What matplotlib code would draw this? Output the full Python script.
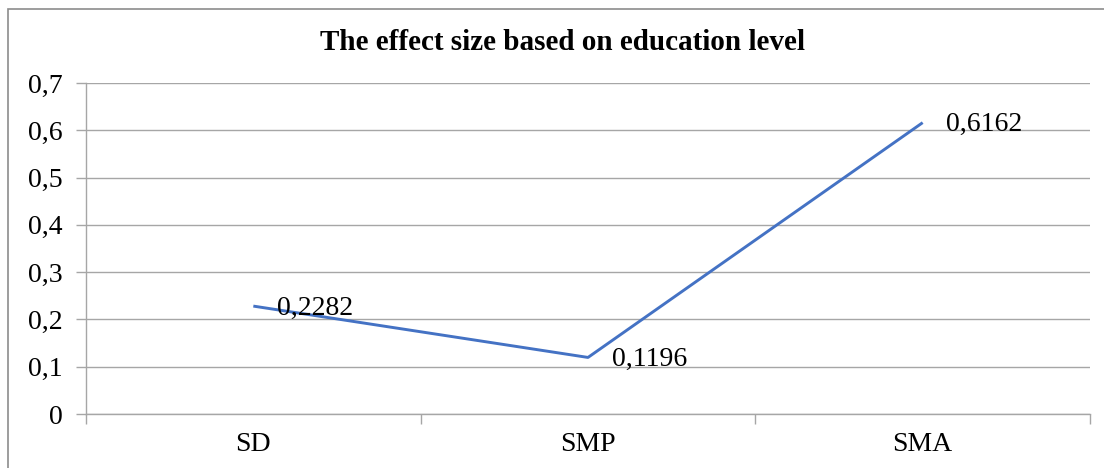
import matplotlib.pyplot as plt
import matplotlib.patches as mpatches

# chart data
categories = ['SD', 'SMP', 'SMA']
effect_sizes = [0.2282, 0.1196, 0.6162]
y_ticks = [0, 0.1, 0.2, 0.3, 0.4, 0.5, 0.6, 0.7]
title = 'The effect size based on education level'

plt.rcParams['font.family'] = ['Liberation Serif', 'DejaVu Serif']

W, H = 1104, 468
fig = plt.figure(figsize=(W / 100, H / 100), dpi=100)
ax = fig.add_axes([86 / W, 1 - 414 / H, (1090 - 86) / W, (414 - 83) / H])

grid_col = '#a6a6a6'
txt_size = 20

# outer chart frame (right/bottom edges fall outside the image)
frame = mpatches.Rectangle((8 / W, -0.1), 1.2, 1 - 9 / H + 0.1,
                           transform=fig.transFigure, fill=False,
                           edgecolor='#8c8c8c', linewidth=1.2)
fig.add_artist(frame)

x = [i + 0.5 for i in range(len(categories))]
ax.plot(x, effect_sizes, color='#4472C4', linewidth=2.1, solid_capstyle='butt')

for xi, v in zip(x, effect_sizes):
    ax.annotate(f'{v:.4f}'.replace('.', ','), xy=(xi, v),
                xytext=(17, -1.5), textcoords='offset points',
                ha='left', va='center', fontsize=txt_size, color='black')

ax.set_xlim(0, len(categories))
ax.set_ylim(0, 0.7)
ax.set_yticks(y_ticks)
ax.set_yticklabels([f'{t:.1f}'.replace('.', ',') if t else '0' for t in y_ticks])
ax.set_xticks(range(len(categories) + 1))
ax.set_xticklabels([])
ax.set_xticks(x, minor=True)
ax.set_xticklabels(categories, minor=True)

ax.grid(axis='y', color=grid_col, linewidth=1.0)
ax.set_axisbelow(True)
for s in ['top', 'right']:
    ax.spines[s].set_visible(False)
for s in ['left', 'bottom']:
    ax.spines[s].set_color(grid_col)
    ax.spines[s].set_linewidth(1.0)

ax.tick_params(axis='y', which='major', length=7, width=1.0, color=grid_col,
               labelsize=txt_size, pad=10)
ax.tick_params(axis='x', which='major', length=7, width=1.0, color=grid_col)
ax.tick_params(axis='x', which='minor', length=0, labelsize=txt_size, pad=13)

fig.text(563 / W, 1 - 42 / H, title, ha='center', va='center',
         fontsize=21, fontweight='bold')

fig.savefig('out.png', dpi=100, facecolor='white')
